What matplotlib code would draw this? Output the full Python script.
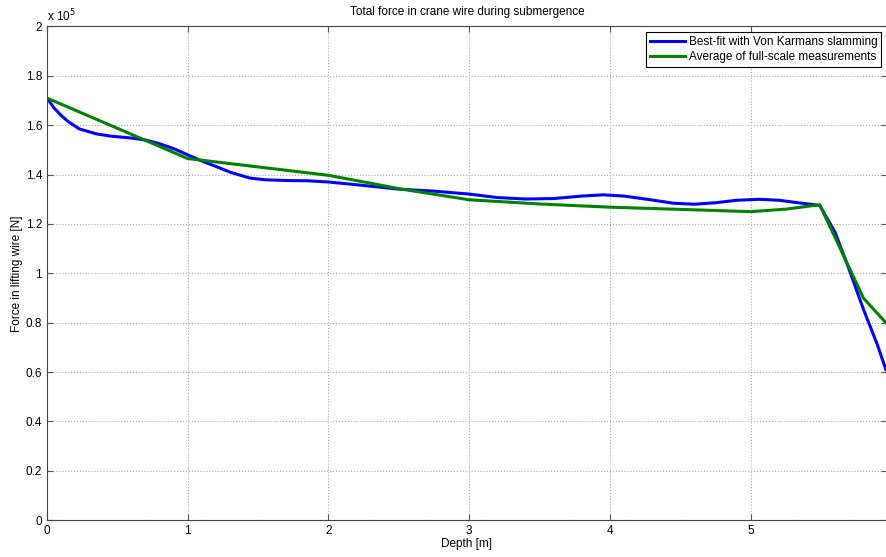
import numpy as np
import matplotlib.pyplot as plt

plt.rcParams['font.family'] = ['Liberation Sans', 'DejaVu Sans']

# depth [m] and force [x 1e5 N]
depth_fit = [0, 0.05, 0.1, 0.15, 0.23, 0.35, 0.45, 0.6, 0.7, 0.8, 0.9, 1.0, 1.1, 1.2,
             1.3, 1.44, 1.55, 1.7, 1.85, 2.0, 2.25, 2.5, 2.75, 3.0, 3.2, 3.4, 3.6,
             3.8, 3.95, 4.1, 4.3, 4.45, 4.6, 4.75, 4.9, 5.06, 5.2, 5.35, 5.49, 5.6,
             5.7, 5.8, 5.9, 5.96]
force_fit = [1.71, 1.67, 1.64, 1.615, 1.585, 1.565, 1.556, 1.548, 1.54, 1.525, 1.505,
             1.48, 1.455, 1.433, 1.41, 1.386, 1.379, 1.376, 1.375, 1.37, 1.356, 1.341,
             1.333, 1.321, 1.307, 1.301, 1.303, 1.313, 1.318, 1.313, 1.297, 1.284,
             1.28, 1.286, 1.296, 1.30, 1.296, 1.285, 1.275, 1.165, 1.014, 0.855,
             0.71, 0.61]

depth_meas = [0, 1.0, 2.0, 2.3, 2.5, 3.0, 3.5, 4.0, 4.5, 5.0, 5.25, 5.49, 5.80, 5.96]
force_meas = [1.71, 1.465, 1.397, 1.365, 1.343, 1.298, 1.281, 1.268, 1.259, 1.25,
              1.26, 1.278, 0.90, 0.80]

fig = plt.figure(figsize=(8.86, 5.57), dpi=100)
ax = fig.add_axes([0.053, 0.066, 0.948, 0.8865])

ax.plot(depth_fit, force_fit, color=(0, 0, 1), lw=2.2,
        label="Best-fit with Von Karmans slamming")
ax.plot(depth_meas, force_meas, color=(0, 0.5, 0), lw=2.2,
        label="Average of full-scale measurements")

ax.set_xlim(0, 5.967)
ax.set_ylim(0, 2)
ax.set_xticks(range(6))
ax.set_yticks(np.arange(0, 2.01, 0.2))
ax.set_yticklabels(["%g" % round(v, 1) for v in np.arange(0, 2.01, 0.2)])
ax.tick_params(direction='in', labelsize=8.5, length=4, color='#555555',
               top=True, right=True)
ax.grid(True, linestyle=':', color='#aaaaaa', lw=0.8)
for s in ax.spines.values():
    s.set_color('#444444')

ax.text(0, 1.005, "x 10$^5$", transform=ax.transAxes, fontsize=8.5, va='bottom')
ax.set_title("Total force in crane wire during submergence", fontsize=8.5, pad=8)
ax.set_xlabel("Depth [m]", fontsize=8.5, labelpad=1)
ax.set_ylabel("Force in lifting wire [N]", fontsize=8.5, labelpad=2)

leg = ax.legend(loc='upper right', fontsize=8.5, fancybox=False, framealpha=1,
                edgecolor='black', handlelength=3, borderaxespad=0.5,
                borderpad=0.3, labelspacing=0.3, handletextpad=0.3)
leg.get_frame().set_linewidth(0.8)

fig.savefig("out.png", dpi=100)
